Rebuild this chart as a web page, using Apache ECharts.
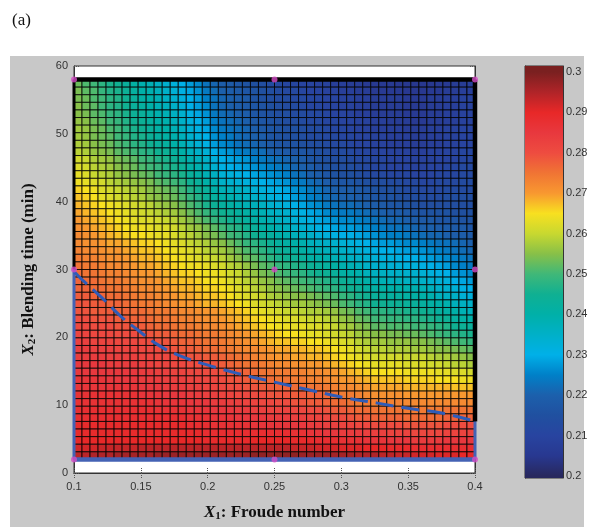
<!DOCTYPE html>
<html>
<head>
<meta charset="utf-8">
<script src="https://cdn.jsdelivr.net/npm/echarts@6/dist/echarts.min.js"></script>
<style>html,body{margin:0;background:#fff}#chart{width:594px;height:527px}</style>
</head>
<body>
<div id="chart"></div>
<script>
// response, in 1/1000, 50 x 50 cells, top row (X2 = 58) first
var zRows = [
[253,251,250,248,246,245,243,241,239,238,236,234,232,230,228,226,223,221,219,218,217,216,215,214,213,212,211,211,210,210,209,209,208,208,207,207,206,206,206,206,205,205,205,205,205,206,206,207,207,208],
[254,252,251,249,247,246,244,242,240,239,237,235,233,231,229,227,224,222,220,219,218,217,216,215,214,213,212,212,211,210,210,209,209,208,208,207,207,206,206,206,206,205,205,205,206,206,207,207,208,208],
[254,253,251,250,248,247,245,243,241,240,238,236,234,232,230,228,225,223,221,220,219,218,216,215,214,213,213,212,212,211,211,210,210,209,209,208,208,207,207,207,207,206,206,206,207,207,208,208,209,209],
[255,253,252,250,248,247,245,243,242,240,238,237,235,233,230,228,226,223,221,220,219,218,217,216,215,214,213,213,212,211,211,210,210,209,209,208,208,207,207,207,207,206,206,206,207,207,208,208,209,209],
[255,254,252,251,249,248,246,244,243,241,239,238,236,234,231,229,227,224,222,221,220,219,217,216,215,214,214,213,213,212,212,211,210,210,209,208,208,207,207,207,207,206,206,206,207,207,208,208,209,209],
[256,255,253,252,250,249,247,245,244,242,240,239,237,235,232,230,228,225,223,222,221,220,218,217,216,215,214,214,213,212,212,211,211,210,210,209,209,208,208,207,207,207,206,206,207,207,208,208,209,209],
[257,256,254,253,251,250,248,246,245,243,241,240,238,236,233,231,229,226,224,223,222,221,219,218,217,216,215,215,214,213,213,212,211,211,210,209,209,208,208,208,208,207,207,207,208,208,209,209,210,210],
[257,256,254,253,252,250,249,247,246,244,242,241,239,237,234,232,230,227,225,224,222,221,220,219,217,216,215,215,214,213,213,212,212,211,211,210,210,209,209,208,208,208,207,207,208,208,209,209,210,210],
[258,257,255,254,253,251,250,248,247,245,243,242,240,238,235,233,231,228,226,225,223,222,221,220,218,217,216,216,215,214,214,213,212,212,211,210,210,209,209,208,208,208,207,207,208,208,209,209,210,210],
[259,258,256,255,254,252,251,250,248,247,245,244,242,240,237,235,233,230,228,227,225,224,223,222,220,219,218,217,217,216,215,214,213,213,212,211,211,210,210,209,209,209,208,208,209,209,210,210,211,211],
[261,260,258,257,256,254,253,252,250,249,247,246,244,242,239,237,235,232,230,229,228,227,225,224,223,222,221,220,219,217,216,215,214,214,213,212,212,211,211,210,210,210,209,209,209,210,210,210,211,211],
[262,261,259,258,257,255,254,253,251,250,249,247,246,244,241,239,236,234,231,230,229,228,227,226,225,224,223,221,220,219,217,216,215,214,214,213,212,211,211,210,210,210,209,209,210,210,211,211,212,212],
[263,262,260,259,258,256,255,254,253,252,250,249,248,246,243,241,238,236,233,232,231,230,229,228,227,226,225,223,222,220,219,217,216,215,215,214,213,212,212,211,211,211,210,210,210,211,211,211,212,212],
[264,263,262,261,259,258,257,256,255,254,252,251,250,248,245,243,240,238,235,234,233,232,231,230,229,228,227,225,224,222,221,219,218,217,217,216,215,214,214,213,213,212,212,211,211,212,212,212,213,213],
[266,265,264,262,261,260,259,258,257,255,254,253,252,250,247,245,243,240,238,237,236,235,233,232,231,230,229,227,226,224,223,221,220,219,219,218,217,216,215,215,214,213,213,212,212,212,213,213,213,213],
[267,266,265,263,262,261,260,259,258,256,255,254,253,251,249,247,244,242,240,239,237,236,235,234,232,231,230,228,227,225,224,222,221,220,220,219,218,217,216,216,215,214,214,213,213,213,214,214,214,214],
[268,267,266,265,264,263,262,261,260,259,257,256,255,253,251,249,246,244,242,241,239,238,237,236,234,233,232,230,229,227,226,224,223,222,222,221,220,219,218,217,217,216,215,214,214,214,214,214,214,214],
[269,268,267,266,265,264,263,262,261,260,259,258,257,255,253,251,249,247,245,244,242,241,239,238,236,235,234,232,231,229,228,226,225,224,224,223,222,221,220,219,219,218,217,216,216,216,216,215,215,215],
[270,269,268,267,266,265,264,263,262,262,261,260,259,257,255,253,251,249,247,245,244,242,241,239,238,236,235,233,232,231,229,228,227,226,226,225,224,223,222,221,221,220,219,218,218,217,217,217,216,216],
[271,270,269,268,267,266,265,264,264,263,262,262,261,259,257,256,254,252,250,248,247,245,243,241,240,238,237,235,234,233,231,230,229,228,228,227,226,225,224,223,223,222,221,220,220,219,219,218,218,217],
[272,271,270,269,268,267,266,265,265,264,263,263,262,260,259,257,255,254,252,250,249,247,245,243,242,240,239,237,236,235,233,232,231,230,230,229,228,227,226,225,225,224,223,222,221,221,220,219,219,218],
[272,271,271,270,269,269,268,267,266,266,265,264,263,262,260,259,258,256,255,253,251,249,248,246,244,242,241,240,239,237,236,235,234,233,232,231,230,229,228,228,227,226,226,225,224,223,223,222,221,220],
[273,272,272,271,270,270,269,268,267,267,266,265,264,263,262,261,259,258,257,255,253,251,250,248,246,244,243,242,241,239,238,237,236,235,234,233,232,231,230,230,229,228,228,227,226,225,224,223,222,221],
[274,273,273,272,271,271,270,269,268,268,267,266,265,264,263,262,261,260,259,257,255,253,252,250,248,246,245,244,243,241,240,239,238,237,236,235,234,233,232,232,231,230,230,229,228,227,226,225,224,223],
[275,274,274,273,272,272,271,270,269,269,268,267,266,265,264,264,263,262,261,259,258,256,254,252,251,249,248,247,246,244,243,242,241,239,238,237,235,234,234,233,233,232,232,231,230,229,228,226,225,224],
[276,275,275,274,273,273,272,271,270,270,269,268,267,266,266,265,264,264,263,261,260,258,256,254,253,251,250,249,248,246,245,244,243,241,240,239,237,236,236,235,235,234,234,233,232,231,230,228,227,226],
[277,276,276,275,274,274,273,272,271,271,270,269,268,267,267,266,265,265,264,262,261,259,258,256,255,253,252,251,250,249,248,247,246,244,243,241,240,238,238,237,237,236,236,235,234,233,232,230,229,228],
[277,277,276,276,275,275,274,273,272,272,271,270,269,268,268,267,266,266,265,264,262,261,259,258,256,255,254,253,252,251,250,249,248,246,245,244,242,241,241,240,240,239,239,238,237,235,234,233,231,230],
[278,278,277,277,276,276,275,274,273,273,272,271,270,269,269,268,267,267,266,265,263,262,261,260,258,257,256,255,255,254,253,252,251,249,248,246,245,243,243,242,242,241,241,240,239,237,236,235,233,232],
[279,279,278,278,277,277,276,275,274,274,273,272,271,270,270,269,268,268,267,266,265,264,262,261,260,259,258,257,257,256,255,254,253,251,250,248,247,245,245,244,244,243,243,242,241,240,239,237,236,235],
[279,279,278,278,278,277,277,276,276,275,274,274,273,272,272,271,270,270,269,268,267,266,264,263,262,261,260,260,259,258,258,257,256,254,253,251,250,248,248,247,247,246,246,245,244,242,241,240,238,237],
[280,280,279,279,279,278,278,277,277,276,275,275,274,273,273,272,271,271,270,269,268,267,266,265,264,263,262,262,261,260,260,259,258,256,255,253,252,250,250,249,249,248,248,247,246,245,244,242,241,240],
[281,281,280,280,280,279,279,278,278,277,276,276,275,274,274,273,272,272,271,270,269,268,267,266,265,264,264,263,263,262,262,261,260,258,257,255,254,252,252,251,251,251,250,250,249,248,247,245,244,243],
[282,282,281,281,281,280,280,280,279,279,278,278,277,276,276,275,274,274,273,272,271,270,269,268,267,266,265,265,264,263,263,262,261,260,259,257,256,255,255,254,254,253,253,252,251,250,249,248,247,246],
[283,283,282,282,282,281,281,281,280,280,279,279,278,277,277,276,275,275,274,273,272,271,270,269,268,267,267,266,266,265,265,264,263,262,261,259,258,257,257,256,256,256,255,255,254,253,252,251,250,249],
[284,284,283,283,283,282,282,282,281,281,280,280,279,278,278,277,276,276,275,274,273,272,272,271,270,269,269,268,268,267,267,266,265,264,263,261,260,259,259,258,258,258,257,257,256,255,255,254,253,252],
[284,284,284,284,283,283,283,283,282,282,281,281,280,280,279,279,278,278,277,276,275,274,273,272,271,270,270,269,269,268,268,267,266,265,264,263,262,261,261,261,261,260,260,260,259,258,258,257,256,255],
[285,285,285,285,284,284,284,284,283,283,282,282,281,281,280,280,279,279,278,277,276,275,275,274,273,272,272,271,271,270,270,269,268,267,266,265,264,263,263,263,263,262,262,262,261,261,260,259,259,258],
[285,285,285,285,285,285,285,285,284,284,283,283,282,282,281,281,280,280,279,278,278,277,276,275,275,274,274,273,273,272,272,271,270,269,268,267,266,265,265,265,265,264,264,264,264,263,263,262,262,261],
[286,286,286,286,285,285,285,285,284,284,284,283,283,283,282,282,281,281,280,279,279,278,277,276,276,275,275,274,274,273,273,272,271,270,270,269,268,267,267,267,267,266,266,266,266,265,265,265,264,264],
[286,286,286,286,286,286,286,286,285,285,285,284,284,284,283,283,282,282,281,280,280,279,279,278,278,277,277,276,276,275,275,274,273,272,272,271,270,269,269,269,269,268,268,268,268,268,268,267,267,267],
[287,287,287,287,287,287,287,287,286,286,286,285,285,285,284,284,283,283,282,282,281,281,280,280,279,279,279,278,278,277,277,276,275,274,274,273,272,271,271,271,271,270,270,270,270,270,270,270,270,270],
[287,287,287,287,287,287,287,287,287,287,286,286,286,286,285,285,285,284,284,283,283,282,282,281,281,280,280,279,279,278,278,277,276,276,275,274,274,273,273,273,273,272,272,272,272,272,272,272,272,272],
[288,288,288,288,288,288,288,288,288,288,287,287,287,287,286,286,286,285,285,285,284,284,283,283,282,282,282,281,281,280,280,279,278,278,277,276,276,275,275,275,275,274,274,274,274,274,275,275,275,275],
[288,288,288,288,288,288,288,288,288,288,288,288,288,288,287,287,287,286,286,286,285,285,285,285,284,284,284,283,283,282,282,281,280,280,279,278,278,277,277,277,277,276,276,276,276,276,277,277,277,277],
[289,289,289,289,289,289,289,289,289,289,289,289,289,289,288,288,288,287,287,287,287,287,286,286,286,286,286,285,285,284,284,283,283,282,282,281,281,280,280,280,280,279,279,279,279,279,280,280,280,280],
[289,289,289,289,289,289,289,289,289,289,289,289,289,289,289,289,288,288,288,288,288,288,288,288,288,288,288,287,287,286,286,285,285,284,284,284,283,283,283,282,282,282,281,281,281,281,282,282,282,282],
[290,290,290,290,290,290,290,290,290,290,290,290,290,290,290,290,289,289,289,289,289,289,290,290,290,290,290,289,289,289,288,288,288,287,287,287,286,286,286,285,285,285,284,284,284,284,285,285,285,285],
[292,292,292,293,293,293,293,293,294,294,294,294,294,294,294,294,294,294,294,294,294,294,294,294,294,294,294,293,293,293,292,292,292,291,291,291,290,290,290,289,289,289,288,288,288,288,288,288,288,288],
[294,294,295,295,295,296,296,296,296,296,297,297,297,297,297,297,297,297,297,297,297,297,298,298,298,298,298,298,297,297,297,297,296,296,296,295,295,295,294,294,293,293,292,292,292,291,291,291,290,290]
];
var x1Range = [0.1, 0.4];      // Froude number span of the surface
var x2Range = [2, 58];         // blending time span of the surface

// dashed contour
var curveX1 = [0.1, 0.105, 0.12, 0.135, 0.147, 0.162, 0.179, 0.202, 0.224, 0.25, 0.277, 0.3, 0.327, 0.351, 0.376, 0.4];
var curveX2 = [29.7, 28.7, 26.0, 23.1, 21.2, 19.0, 17.3, 15.8, 14.6, 13.4, 12.2, 11.2, 10.3, 9.5, 8.8, 7.6];

// design points
var designX1 = [0.1, 0.25, 0.4, 0.1, 0.25, 0.4, 0.1, 0.25, 0.4];
var designX2 = [58, 58, 58, 30, 30, 30, 2, 2, 2];

// boundary of the region
var edgeTop = [[0.1, 58], [0.4, 58]];
var edgeLeftBlack = [[0.1, 58], [0.1, 30]];
var edgeRightBlack = [[0.4, 58], [0.4, 7.6]];
var edgeLeftBlue = [[0.1, 30], [0.1, 2]];
var edgeBottom = [[0.1, 2], [0.4, 2]];
var edgeRightBlue = [[0.4, 7.6], [0.4, 2]];

// colour bar
var cbTicks = [0.2, 0.21, 0.22, 0.23, 0.24, 0.25, 0.26, 0.27, 0.28, 0.29, 0.3];
var cbRange = [0.1995, 0.3015];
var cmapRange = [0.2, 0.3];
var cmapColors = ['#28285e', '#283890', '#2844a0', '#2050a0', '#1c60ac', '#0080c8', '#00b0e8',
    '#00b0c8', '#00b0a8', '#10b092', '#40b878', '#88c048', '#c8d830', '#f8e020', '#f89830',
    '#f07434', '#ee4c40', '#e8383e', '#e82828', '#b02428', '#7a2020'];

var nRow = zRows.length, nCol = zRows[0].length;
var dx = (x1Range[1] - x1Range[0]) / nCol;
var dy = (x2Range[1] - x2Range[0]) / nRow;
var cells = [];
zRows.forEach(function (row, i) {
    var yTop = x2Range[1] - i * dy;
    row.forEach(function (z, j) {
        var xl = x1Range[0] + j * dx;
        cells.push([xl, yTop - dy, xl + dx, yTop, z / 1000]);
    });
});

var curve = curveX1.map(function (x, i) { return [x, curveX2[i]]; });
var design = designX1.map(function (x, i) { return [x, designX2[i]]; });

// gradient for the colour bar, top = max
var cbStops = [];
for (var k = cmapColors.length - 1; k >= 0; k--) {
    var v = cmapRange[0] + (cmapRange[1] - cmapRange[0]) * k / (cmapColors.length - 1);
    cbStops.push({offset: (cbRange[1] - v) / (cbRange[1] - cbRange[0]), color: cmapColors[k]});
}
cbStops.unshift({offset: 0, color: cmapColors[cmapColors.length - 1]});
cbStops.push({offset: 1, color: cmapColors[0]});

var labelFont = {fontFamily: 'Liberation Sans', fontSize: 11, color: '#333'};
var tickStyle = {color: '#555', width: 1, type: 'dotted'};
var serif = 'Liberation Serif';
var nameRich = {
    i: {fontFamily: serif, fontStyle: 'italic', fontWeight: 'bold', fontSize: 17, color: '#111'},
    s: {fontFamily: serif, fontWeight: 'bold', fontSize: 11, color: '#111', padding: [8, 0, 0, 0]},
    b: {fontFamily: serif, fontWeight: 'bold', fontSize: 17, color: '#111'}
};

function edge(data, color, width) {
    return {
        type: 'line', data: data, symbol: 'none', z: 5, silent: true,
        lineStyle: {color: color, width: width}
    };
}

var option = {
    backgroundColor: '#c8c8c8',
    animation: false,
    graphic: [
        {type: 'rect', shape: {x: 0, y: 0, width: 594, height: 56}, style: {fill: '#fff'}},
        {type: 'rect', shape: {x: 0, y: 0, width: 10, height: 527}, style: {fill: '#fff'}},
        {type: 'rect', shape: {x: 584, y: 0, width: 10, height: 527}, style: {fill: '#fff'}},
        {type: 'text', left: 12, top: 12, style: {text: '(a)', fontFamily: serif, fontSize: 17, fill: '#111'}}
    ],
    grid: [
        {left: 74, top: 66, width: 401, height: 413, show: true, backgroundColor: '#fff', borderColor: '#333', borderWidth: 1},
        {left: 525, top: 66, width: 38, height: 412, show: true, borderColor: '#333', borderWidth: 1}
    ],
    visualMap: {
        type: 'continuous', show: false, seriesIndex: 0, dimension: 4,
        min: cmapRange[0], max: cmapRange[1], inRange: {color: cmapColors}
    },
    xAxis: [
        {
            gridIndex: 0, type: 'value', min: 0.1, max: 0.4, interval: 0.05,
            axisLine: {lineStyle: {color: '#333'}},
            axisTick: {inside: true, length: 5, lineStyle: tickStyle},
            splitLine: {show: false},
            axisLabel: Object.assign({margin: 8}, labelFont),
            name: '{i|X}{s|1}{b|: Froude number}', nameLocation: 'middle', nameGap: 30,
            nameTextStyle: {rich: nameRich}
        },
        {
            gridIndex: 0, type: 'value', position: 'top', min: 0.1, max: 0.4, interval: 0.05,
            axisLine: {lineStyle: {color: '#333'}},
            axisTick: {inside: true, length: 5, lineStyle: tickStyle},
            axisLabel: {show: false}, splitLine: {show: false}
        },
        {gridIndex: 1, type: 'value', min: 0, max: 1, show: false}
    ],
    yAxis: [
        {
            gridIndex: 0, type: 'value', min: 0, max: 60, interval: 10,
            axisLine: {lineStyle: {color: '#333'}},
            axisTick: {inside: true, length: 5, lineStyle: tickStyle},
            splitLine: {show: false},
            axisLabel: Object.assign({margin: 6}, labelFont),
            name: '{i|X}{s|2}{b|: Blending time (min)}', nameLocation: 'middle', nameGap: 36,
            nameTextStyle: {rich: nameRich}
        },
        {
            gridIndex: 0, type: 'value', position: 'right', min: 0, max: 60, interval: 10,
            axisLine: {lineStyle: {color: '#333'}},
            axisTick: {inside: true, length: 5, lineStyle: tickStyle},
            axisLabel: {show: false}, splitLine: {show: false}
        },
        {
            gridIndex: 1, type: 'value', position: 'left', min: cbRange[0], max: cbRange[1],
            axisLine: {show: true, lineStyle: {color: '#333'}},
            axisTick: {inside: true, length: 4, customValues: cbTicks, lineStyle: {color: '#222'}},
            axisLabel: {show: false}, splitLine: {show: false}
        },
        {
            gridIndex: 1, type: 'value', position: 'right', min: cbRange[0], max: cbRange[1],
            axisLine: {show: true, lineStyle: {color: '#333'}},
            axisTick: {inside: true, length: 4, customValues: cbTicks, lineStyle: {color: '#222'}},
            axisLabel: Object.assign({
                margin: 3, customValues: cbTicks,
                formatter: function (v) { return String(parseFloat(v.toFixed(2))); }
            }, labelFont),
            splitLine: {show: false}
        }
    ],
    series: [
        {
            type: 'custom', xAxisIndex: 0, yAxisIndex: 0, data: cells,
            encode: {x: [0, 2], y: [1, 3]}, silent: true, z: 2,
            renderItem: function (params, api) {
                var p0 = api.coord([api.value(0), api.value(3)]);
                var p1 = api.coord([api.value(2), api.value(1)]);
                return {
                    type: 'rect',
                    shape: {x: p0[0], y: p0[1], width: p1[0] - p0[0], height: p1[1] - p0[1]},
                    style: {fill: api.visual('color'), stroke: 'rgba(0,0,0,0.8)', lineWidth: 1}
                };
            }
        },
        {
            type: 'custom', xAxisIndex: 2, yAxisIndex: 2, data: [[0, cbRange[0], 1, cbRange[1]]],
            encode: {x: [0, 2], y: [1, 3]}, silent: true, z: 1,
            renderItem: function (params, api) {
                var p0 = api.coord([api.value(0), api.value(3)]);
                var p1 = api.coord([api.value(2), api.value(1)]);
                return {
                    type: 'rect',
                    shape: {x: p0[0], y: p0[1], width: p1[0] - p0[0], height: p1[1] - p0[1]},
                    style: {fill: new echarts.graphic.LinearGradient(0, 0, 0, 1, cbStops)}
                };
            }
        },
        edge(edgeTop, '#000', 4.5),
        edge(edgeLeftBlack, '#000', 3),
        edge(edgeRightBlack, '#000', 4.5),
        edge(edgeLeftBlue, '#4462b4', 3),
        edge(edgeBottom, '#4462b4', 4.5),
        edge(edgeRightBlue, '#4462b4', 3),
        {
            type: 'line', data: curve, symbol: 'none', smooth: true, z: 6, silent: true,
            lineStyle: {color: '#2f5cb8', width: 3, type: [18, 8]}
        },
        {
            type: 'scatter', data: design, symbolSize: 6, z: 7, silent: true,
            itemStyle: {color: '#d34ec5'}
        }
    ]
};

echarts.init(document.getElementById('chart')).setOption(option);
</script>
</body>
</html>
